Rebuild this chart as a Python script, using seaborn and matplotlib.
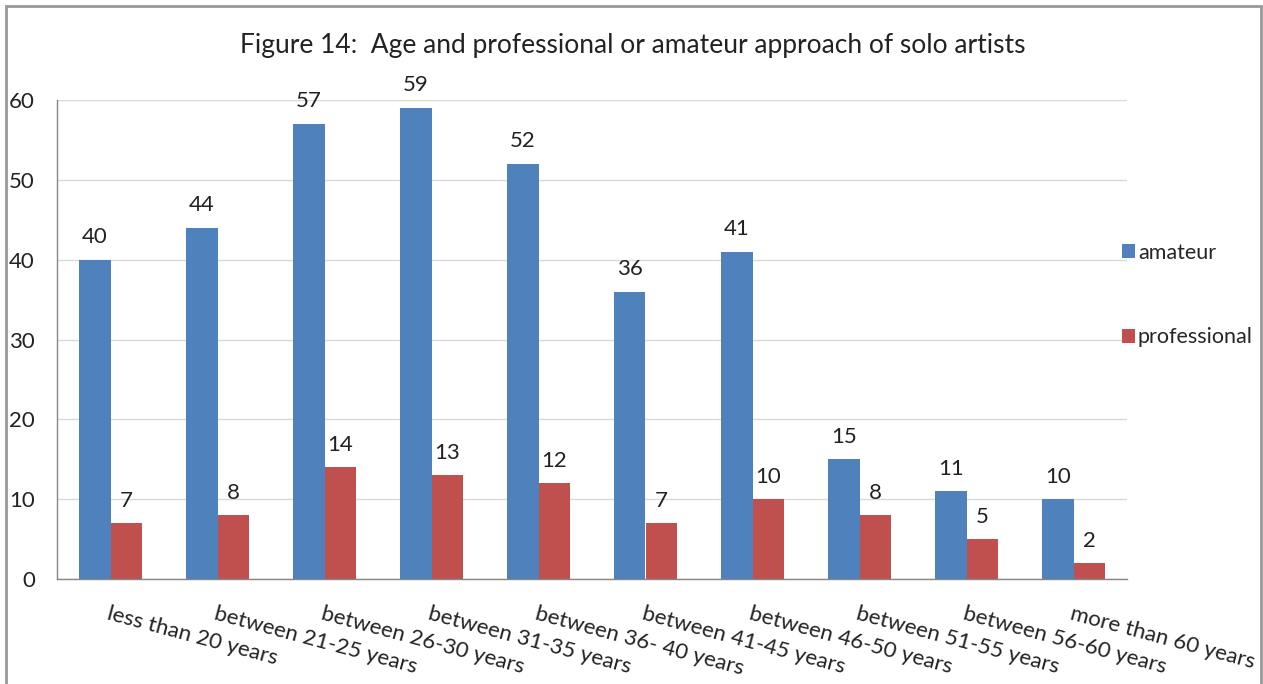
import matplotlib
matplotlib.use("Agg")
import matplotlib.pyplot as plt
import seaborn as sns
import pandas as pd
from matplotlib.patches import Rectangle

# data
age_groups = ["less than 20 years", "between 21-25 years", "between 26-30 years",
              "between 31-35 years", "between 36- 40 years", "between 41-45 years",
              "between 46-50 years", "between 51-55 years", "between 56-60 years",
              "more than 60 years"]
amateur = [40, 44, 57, 59, 52, 36, 41, 15, 11, 10]
professional = [7, 8, 14, 13, 12, 7, 10, 8, 5, 2]

df = pd.DataFrame({
    "age": age_groups * 2,
    "count": amateur + professional,
    "type": ["amateur"] * len(age_groups) + ["professional"] * len(age_groups),
})

sns.set_style("white")
plt.rcParams["font.family"] = ["Lato", "DejaVu Sans"]

fig = plt.figure(figsize=(12.63, 6.84), dpi=100)
ax = fig.add_axes([57 / 1263, 1 - 579 / 684, (1127 - 57) / 1263, (579 - 100) / 684])

sns.barplot(data=df, x="age", y="count", hue="type", ax=ax,
            palette=["#4F81BD", "#C0504D"], width=0.58, saturation=1,
            edgecolor="none")

# value labels
for cont in ax.containers:
    ax.bar_label(cont, padding=9, fontsize=16, color="#222222")

ax.set_ylim(0, 60)
ax.set_yticks(range(0, 61, 10))
ax.set_xlim(-0.5, len(age_groups) - 0.5)
ax.yaxis.grid(True, color="#d9d9d9", linewidth=1)
ax.set_axisbelow(True)
ax.set_xlabel("")
ax.set_ylabel("")
for s in ["top", "right"]:
    ax.spines[s].set_visible(False)
for s in ["left", "bottom"]:
    ax.spines[s].set_color("#868686")
    ax.spines[s].set_linewidth(1)
ax.tick_params(axis="y", length=0, pad=16, labelsize=16, labelcolor="#222222")
ax.tick_params(axis="x", length=0, pad=0)

ax.set_xticks(range(len(age_groups)))
ax.set_xticklabels(age_groups, rotation=-15, ha="left", va="top",
                   rotation_mode="anchor", fontsize=16, color="#222222")
for lab in ax.get_xticklabels():
    lab.set_y(-0.052)

fig.text(633 / 1263, 1 - 45 / 684,
         "Figure 14:  Age and professional or amateur approach of solo artists",
         fontsize=19, color="#222222", ha="center", va="center")

leg = ax.legend(loc="upper left", bbox_to_anchor=(1111 / 1263, 1 - 232 / 684),
                bbox_transform=fig.transFigure, frameon=False, fontsize=15.5,
                handlelength=0.6, handleheight=0.6, handletextpad=0.15,
                labelspacing=3.0, borderpad=0)

# chart border
fig.add_artist(Rectangle((6 / 1263, -0.05), 1255 / 1263, 1 - 6 / 684 + 0.05,
                         transform=fig.transFigure, fill=False,
                         edgecolor="#999999", linewidth=2))

fig.savefig("out.png", dpi=100)
